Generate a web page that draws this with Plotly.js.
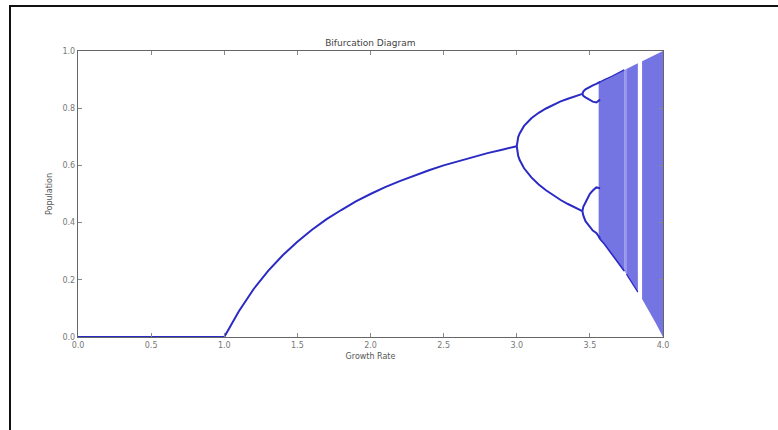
<!DOCTYPE html>
<html>
<head>
<meta charset="utf-8">
<script src="https://cdn.plot.ly/plotly-3.0.1.min.js"></script>
<style>
  html, body { margin: 0; padding: 0; background: #fff; }
  #wrap { position: relative; width: 778px; height: 430px; overflow: hidden; }
  #frame { position: absolute; left: 9px; top: 5px; width: 800px; height: 450px;
           border-left: 2px solid #111; border-top: 2px solid #111; pointer-events: none; }
  #chart { position: absolute; left: 0; top: 0; width: 778px; height: 430px; }
</style>
</head>
<body>
<div id="wrap">
  <div id="chart"></div>
  <div id="frame"></div>
</div>
<script>
// ---- data ----
// extinction branch (population 0 for growth rate 0..1)
const rateZero = [0.0, 0.5, 1.0];
const popZero  = [0.0, 0.0, 0.0];

// single stable branch, growth rate 1..3
const rateFixed = [1.0, 1.1, 1.2, 1.3, 1.4, 1.5, 1.6, 1.7, 1.8, 1.9, 2.0,
                   2.1, 2.2, 2.3, 2.4, 2.5, 2.6, 2.7, 2.8, 2.9, 3.0];
const popFixed  = [0.0, 0.09, 0.167, 0.231, 0.286, 0.333, 0.375, 0.412, 0.444, 0.474, 0.5,
                   0.524, 0.545, 0.565, 0.583, 0.6, 0.615, 0.63, 0.643, 0.655, 0.667];

// period-2 branches, growth rate 3..3.45
const ratePeriod2  = [3.0, 3.01, 3.02, 3.05, 3.1, 3.15, 3.2, 3.25, 3.3, 3.35, 3.4, 3.449];
const popPeriod2Up = [0.667, 0.699, 0.712, 0.738, 0.765, 0.784, 0.799, 0.812, 0.824, 0.833, 0.842, 0.85];
const popPeriod2Lo = [0.667, 0.633, 0.619, 0.590, 0.558, 0.533, 0.513, 0.495, 0.479, 0.465, 0.452, 0.44];

// period-4 bubbles, growth rate 3.45..3.57
const ratePeriod4  = [3.449, 3.455, 3.47, 3.49, 3.5, 3.52, 3.544, 3.57];
const popP4UpA     = [0.85, 0.858, 0.866, 0.872, 0.875, 0.880, 0.885, 0.892];
const popP4UpB     = [0.85, 0.843, 0.838, 0.831, 0.827, 0.823, 0.820, 0.83];
const popP4LoA     = [0.44, 0.455, 0.47, 0.490, 0.501, 0.512, 0.523, 0.52];
const popP4LoB     = [0.44, 0.425, 0.405, 0.390, 0.383, 0.372, 0.364, 0.345];

// chaotic band envelope (left of the period-5 window)
const rateChaosA  = [3.56, 3.57, 3.6, 3.65, 3.7, 3.735];
const popChaosAUp = [0.89, 0.893, 0.9, 0.912, 0.925, 0.934];
const popChaosALo = [0.35, 0.342, 0.324, 0.291, 0.257, 0.231];

// faint period-5 window
const rateWin5    = [3.735, 3.75];
const popWin5Up   = [0.934, 0.937];
const popWin5Lo   = [0.231, 0.22];

// chaotic band between period-5 and period-3 windows
const rateChaosM  = [3.75, 3.8, 3.828];
const popChaosMUp = [0.937, 0.95, 0.957];
const popChaosMLo = [0.22, 0.18, 0.157];

// chaotic band envelope (right of the period-3 window)
const rateChaosB  = [3.857, 3.9, 3.95, 4.0];
const popChaosBUp = [0.964, 0.975, 0.988, 1.0];
const popChaosBLo = [0.133, 0.095, 0.049, 0.0];

// tick labels
const xTicks = [0.0, 0.5, 1.0, 1.5, 2.0, 2.5, 3.0, 3.5, 4.0];
const yTicks = [0.0, 0.2, 0.4, 0.6, 0.8, 1.0];

// ---- drawing ----
const lineColor = '#2a2ac4';
const bandColor = 'rgba(62,62,215,0.72)';
const faintColor = 'rgba(80,80,220,0.58)';

function line(x, y, w, c) {
  return { x: x, y: y, type: 'scatter', mode: 'lines',
           line: { color: c || lineColor, width: w || 2 }, hoverinfo: 'skip', showlegend: false };
}
function band(x, up, lo, col) {
  return [
    { x: x, y: lo, type: 'scatter', mode: 'lines', line: { color: col, width: 0 },
      hoverinfo: 'skip', showlegend: false },
    { x: x, y: up, type: 'scatter', mode: 'lines', line: { color: col, width: 0 },
      fill: 'tonexty', fillcolor: col, hoverinfo: 'skip', showlegend: false }
  ];
}

const traces = [
  ...band(rateChaosA, popChaosAUp, popChaosALo, bandColor),
  ...band(rateWin5, popWin5Up, popWin5Lo, faintColor),
  ...band(rateChaosM, popChaosMUp, popChaosMLo, bandColor),
  ...band(rateChaosB, popChaosBUp, popChaosBLo, bandColor),
  line(rateChaosA, popChaosALo, 1.6),
  line(rateChaosA, popChaosAUp, 1.2),
  line(rateChaosM, popChaosMLo, 1.2),
  line(rateZero, popZero),
  line(rateFixed, popFixed),
  line(ratePeriod2, popPeriod2Up),
  line(ratePeriod2, popPeriod2Lo),
  line(ratePeriod4, popP4UpA),
  line(ratePeriod4, popP4UpB),
  line(ratePeriod4, popP4LoA),
  line(ratePeriod4, popP4LoB)
];

const axisCommon = {
  showgrid: false, zeroline: false, showline: true, linecolor: '#666', linewidth: 1.2,
  mirror: 'allticks', ticks: 'inside', ticklen: 4, tickcolor: '#888',
  tickfont: { family: 'DejaVu Sans', size: 8, color: '#777' }
};

const layout = {
  width: 778, height: 430,
  margin: { l: 78, r: 115, t: 51, b: 93, pad: 0 },
  paper_bgcolor: '#fff', plot_bgcolor: '#fff',
  title: { text: 'Bifurcation Diagram', x: 0.476, xanchor: 'center', y: 0.9, yanchor: 'middle',
           font: { family: 'DejaVu Sans', size: 9, color: '#444' } },
  xaxis: Object.assign({}, axisCommon, {
    range: [0, 4], tickvals: xTicks, ticktext: xTicks.map(v => v.toFixed(1)),
    title: { text: 'Growth Rate', standoff: 4, font: { family: 'DejaVu Sans', size: 8, color: '#555' } }
  }),
  yaxis: Object.assign({}, axisCommon, {
    range: [0, 1], tickvals: yTicks, ticktext: yTicks.map(v => v.toFixed(1)),
    title: { text: 'Population', standoff: 8, font: { family: 'DejaVu Sans', size: 8, color: '#555' } }
  }),
  showlegend: false
};

Plotly.newPlot('chart', traces, layout, { displayModeBar: false, staticPlot: true });
</script>
</body>
</html>
